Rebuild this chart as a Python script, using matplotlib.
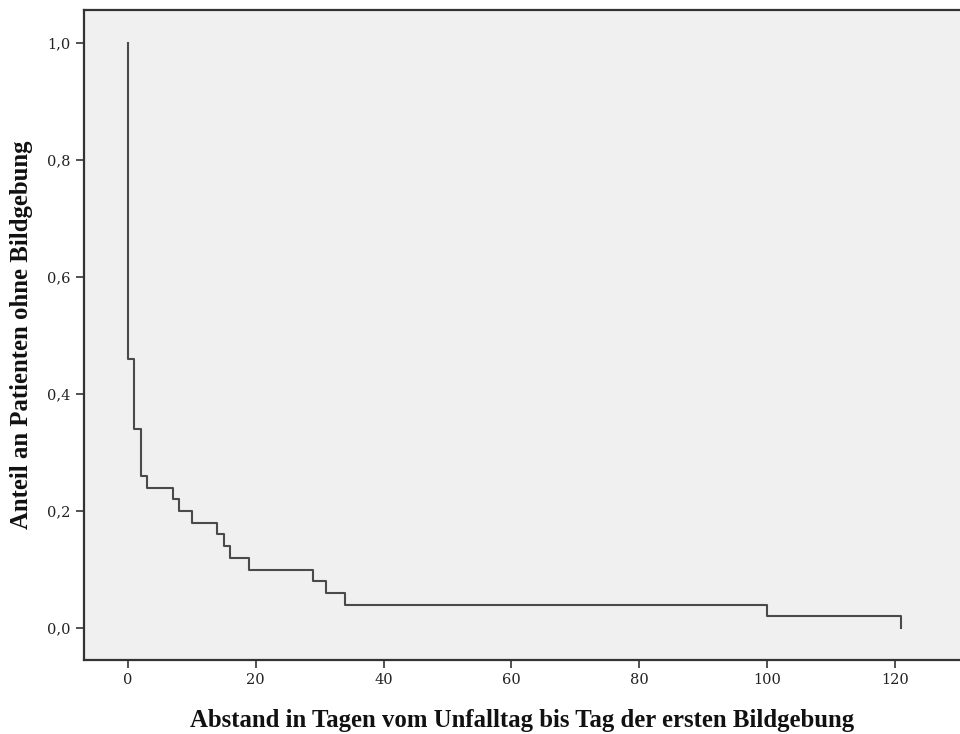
import matplotlib.pyplot as plt
from matplotlib.ticker import FuncFormatter

# Kaplan-Meier Schritte (Tage, Anteil ohne Bildgebung)
days = [0, 0, 1, 2, 3, 7, 8, 10, 14, 15, 16, 19, 29, 31, 34, 100, 121]
share = [1.0, 0.46, 0.34, 0.26, 0.24, 0.22, 0.20, 0.18, 0.16, 0.14, 0.12,
         0.10, 0.08, 0.06, 0.04, 0.02, 0.0]

xticks = [0, 20, 40, 60, 80, 100, 120]
yticks = [0.0, 0.2, 0.4, 0.6, 0.8, 1.0]

plt.rcParams['font.family'] = ['Liberation Serif', 'DejaVu Serif']

fig = plt.figure(figsize=(9.6, 7.34), dpi=100)
ax = fig.add_axes([0.0875, 0.1008, 0.9125, 0.8856])
ax.set_facecolor('#f0f0f0')

ax.plot(days, share, drawstyle='steps-post', color='#4a4a4a', linewidth=1.5)

ax.set_xlim(-6.88, 130.2)
ax.set_ylim(-0.0547, 1.0564)
ax.set_xticks(xticks)
ax.set_yticks(yticks)
ax.yaxis.set_major_formatter(FuncFormatter(lambda v, p: ('%.1f' % v).replace('.', ',')))
ax.tick_params(direction='out', length=6, width=1.2, color='#333333',
               labelsize=10.5, labelcolor='#222222')
for lab in ax.get_xticklabels() + ax.get_yticklabels():
    lab.set_family('DejaVu Serif')

for side in ['left', 'bottom', 'top']:
    ax.spines[side].set_linewidth(1.6)
    ax.spines[side].set_color('#333333')
ax.spines['right'].set_visible(False)

ax.set_xlabel('Abstand in Tagen vom Unfalltag bis Tag der ersten Bildgebung',
              fontsize=17.8, fontweight='bold', labelpad=16, color='#111111')
ax.set_ylabel('Anteil an Patienten ohne Bildgebung',
              fontsize=17.8, fontweight='bold', labelpad=10, color='#111111')

fig.savefig('out.png', dpi=100)
